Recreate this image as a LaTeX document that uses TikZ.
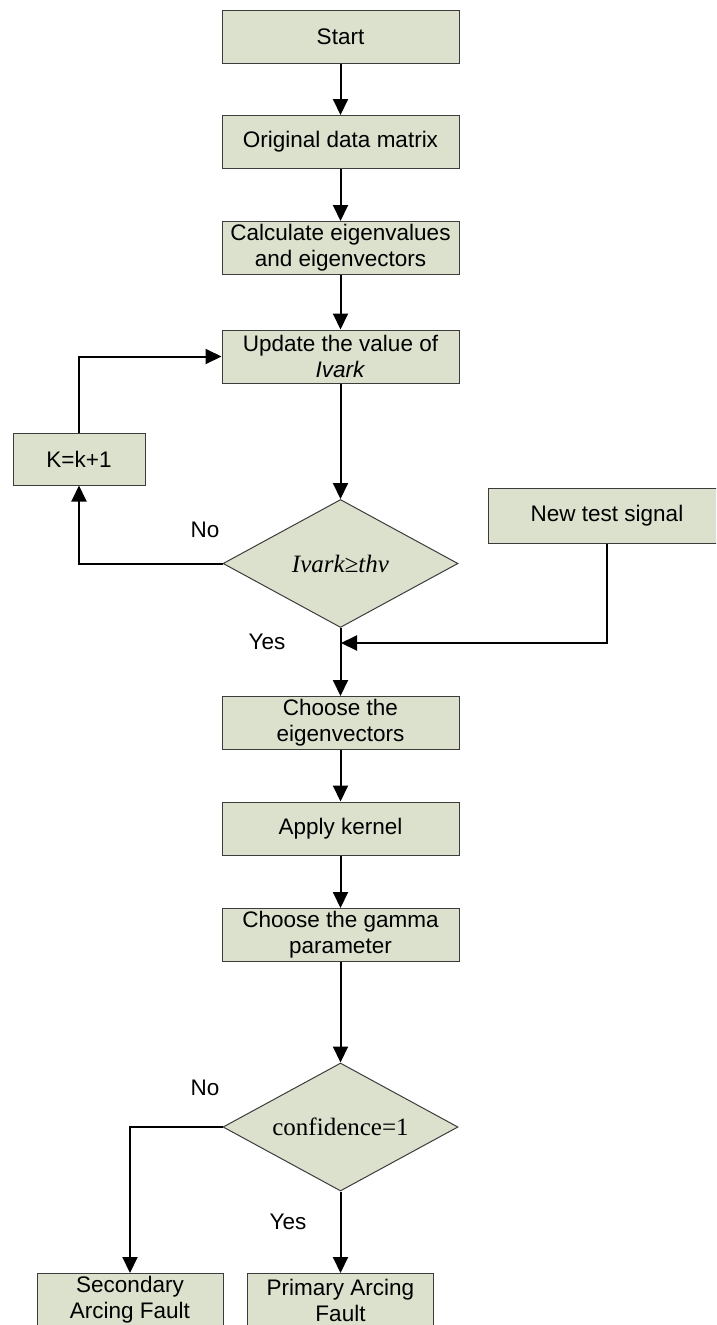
\documentclass[tikz,border=0pt]{standalone}
\usepackage{fontspec}
\setmainfont{Liberation Sans}
\newfontfamily\timesfont{Liberation Serif}
\usetikzlibrary{arrows.meta,shapes.geometric}

\definecolor{boxfill}{RGB}{220,225,205}
\definecolor{boxline}{RGB}{60,60,60}

\tikzset{
  procbox/.style={draw=boxline, line width=1pt, fill=boxfill, minimum width=237pt,
    minimum height=53pt, inner sep=0pt, align=center, font=\fontsize{22.5}{26}\selectfont},
  decbox/.style={diamond, aspect=2, draw=boxline, line width=1pt, fill=boxfill,
    minimum width=235pt, minimum height=128pt, inner sep=0pt, font=\timesfont\fontsize{25}{30}\selectfont},
  flow/.style={line width=2pt, -{Triangle[length=16pt,width=15pt]}},
  lbl/.style={font=\fontsize{22.5}{26}\selectfont}
}

\begin{document}
\begin{tikzpicture}[x=1pt,y=-1pt]
	%%%%% FRAME %%%%%
	\clip (0,0) rectangle (716,1325);

	%%%%% BOXES %%%%%
	\node[procbox] (start) at (340.5,36.5) {Start};
	\node[procbox] (orig) at (340.5,142) {Original data matrix};
	\node[procbox] (calc) at (340.5,248) {Calculate eigenvalues\\and eigenvectors};
	\node[procbox] (upd) at (340.5,356.5) {Update the value of\\\textit{Ivark}};
	\node[procbox, minimum width=132pt, minimum height=52pt] (kinc) at (79,459) {K=k+1};
	\node[decbox] (test) at (340.5,563.5) {\textit{Ivark\char"2265 thv}};
	\node[procbox, minimum width=238pt, minimum height=55pt] (newsig) at (607,515.5) {New test signal};
	\node[procbox] (eig) at (340.5,723) {Choose the\\eigenvectors};
	\node[procbox] (kern) at (340.5,828.5) {Apply kernel};
	\node[procbox] (gam) at (340.5,935) {Choose the gamma\\parameter};
	\node[decbox] (conf) at (340.5,1127) {confidence=1};
	\node[procbox, minimum width=186pt] (sec) at (130,1300) {Secondary\\Arcing Fault};
	\node[procbox, minimum width=186pt] (prim) at (340.5,1300) {Primary Arcing\\Fault};

	%%%%% LABELS %%%%%
	\node[lbl] (no1) at (205,530) {No};
	\node[lbl] (yes1) at (267,642) {Yes};
	\node[lbl] (no2) at (205,1088) {No};
	\node[lbl] (yes2) at (288,1222) {Yes};

	%%%%% ARROWS %%%%%
	\coordinate (join) at (341,643);
	\draw[flow] (start) -- (orig);
	\draw[flow] (orig) -- (calc);
	\draw[flow] (calc) -- (upd);
	\draw[flow] (upd) -- (test);
	\draw[flow] (test.west) -| (kinc.south);
	\draw[flow] (kinc.north) |- (upd.west);
	\draw[flow] (test) -- (eig);
	\draw[flow] (newsig.south) |- (join);
	\draw[flow] (eig) -- (kern);
	\draw[flow] (kern) -- (gam);
	\draw[flow] (gam) -- (conf);
	\draw[flow] (conf.west) -| (sec.north);
	\draw[flow] (conf) -- (prim);
\end{tikzpicture}
\end{document}
